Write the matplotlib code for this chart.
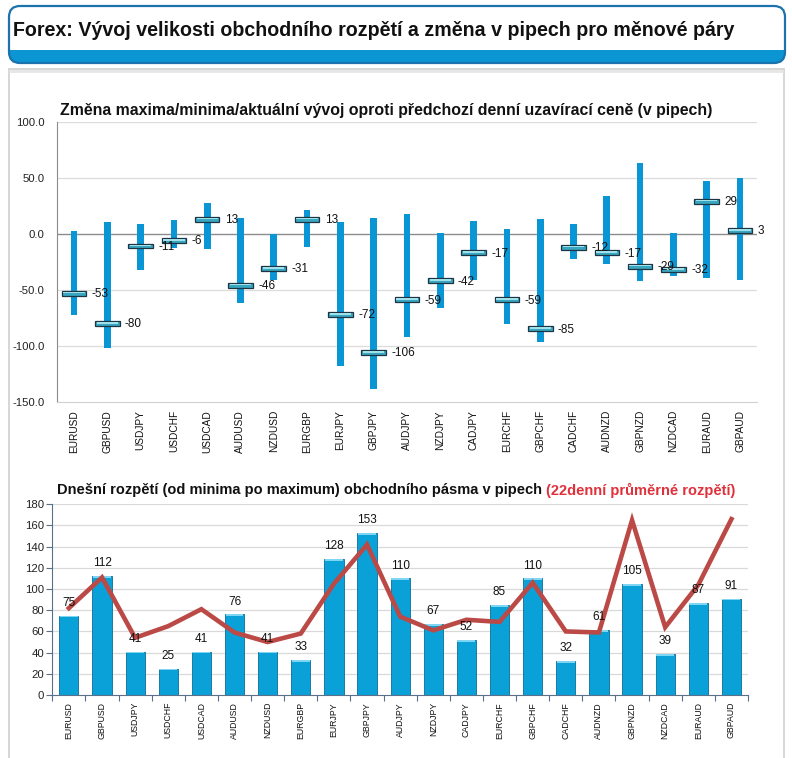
import matplotlib
matplotlib.use("Agg")
import matplotlib.pyplot as plt
from matplotlib.patches import FancyBboxPatch, Rectangle
import numpy as np

pairs = ["EURUSD", "GBPUSD", "USDJPY", "USDCHF", "USDCAD", "AUDUSD", "NZDUSD",
         "EURGBP", "EURJPY", "GBPJPY", "AUDJPY", "NZDJPY", "CADJPY", "EURCHF",
         "GBPCHF", "CADCHF", "AUDNZD", "GBPNZD", "NZDCAD", "EURAUD", "GBPAUD"]
high_change = [2, 10, 9, 12, 27, 14, 0, 21, 10, 14, 18, 1, 11, 4, 13, 9, 34, 63, 1, 47, 50]
low_change = [-73, -102, -32, -13, -14, -62, -41, -12, -118, -139, -92, -66, -41, -81,
              -97, -23, -27, -42, -38, -40, -41]
current_change = [-53, -80, -11, -6, 13, -46, -31, 13, -72, -106, -59, -42, -17, -59,
                  -85, -12, -17, -29, -32, 29, 3]
today_range = [75, 112, 41, 25, 41, 76, 41, 33, 128, 153, 110, 67, 52, 85, 110, 32, 61,
               105, 39, 87, 91]
avg22_range = [82, 111, 54, 65, 81, 59, 50, 58, 105, 142, 74, 61, 71, 69, 106, 60, 59,
               165, 64, 104, 166]
top_yticks = [100, 50, 0, -50, -100, -150]
top_yticklabels = ["100.0", "50.0", "0.0", "-50.0", "-100.0", "-150.0"]
bot_yticks = [0, 20, 40, 60, 80, 100, 120, 140, 160, 180]

main_title = "Forex: Vývoj velikosti obchodního rozpětí a změna v pipech pro měnové páry"
top_title = "Změna maxima/minima/aktuální vývoj oproti předchozí denní uzavírací ceně (v pipech)"
bot_title_a = "Dnešní rozpětí (od minima po maximum) obchodního pásma v pipech "
bot_title_b = "(22denní průměrné rozpětí)"

W, H = 792, 758
fig = plt.figure(figsize=(W / 100, H / 100), dpi=100)
plt.rcParams['font.family'] = ['Liberation Sans', 'DejaVu Sans']

# background canvas in pixel coords
bg = fig.add_axes([0, 0, 1, 1], zorder=-10)
bg.set_xlim(0, W)
bg.set_ylim(H, 0)
bg.axis("off")

hdr = FancyBboxPatch((9, 6), 776, 57, boxstyle="round,pad=0,rounding_size=11",
                     facecolor="white", edgecolor="none", lw=0, zorder=2)
bg.add_patch(hdr)
strip = Rectangle((8, 50), 780, 15, facecolor="#0b95d3", edgecolor="none", zorder=2.5)
bg.add_patch(strip)
strip.set_clip_path(hdr)
hdr2 = FancyBboxPatch((9, 6), 776, 57, boxstyle="round,pad=0,rounding_size=11",
                      facecolor="none", edgecolor="#1b72ad", lw=1.6, zorder=3)
bg.add_patch(hdr2)
bg.add_patch(Rectangle((8.5, 69), 775, 700, facecolor="white", edgecolor="#cfcfcf", lw=1.2, zorder=1))
bg.plot([10, 782], [70.5, 70.5], color="#e6e6e6", lw=2, zorder=1.5)

bg.text(13, 31, main_title, fontsize=14.1, fontweight="bold", va="center", ha="left",
        family=['Liberation Sans', 'DejaVu Sans'], zorder=4, color="#111")


def px_axes(left, top, right, bottom):
    return fig.add_axes([left / W, 1 - bottom / H, (right - left) / W, (bottom - top) / H])


x = np.arange(len(pairs))

# ---------- top chart ----------
ax1 = px_axes(57.3, 121.7, 756.7, 401.7)
ax1.set_xlim(-0.5, len(pairs) - 0.5)
ax1.set_ylim(-150, 100)
for v in top_yticks:
    if v == 0:
        ax1.axhline(v, color="#8c8c8c", lw=1.0, zorder=1)
    elif v != -150:
        ax1.axhline(v, color="#dcdcdc", lw=0.9, zorder=0)
hi = np.array(high_change)
lo = np.array(low_change)
cur = np.array(current_change)
ax1.bar(x, hi - lo, bottom=lo, width=0.2, color="#0a96d4", zorder=2)
mh = 4.4
ax1.bar(x, mh, bottom=cur - mh / 2, width=0.74, color="#3aa7c0", edgecolor="#1d3542",
        lw=0.9, zorder=3)
ax1.bar(x, mh * 0.35, bottom=cur - 0.2, width=0.64, color="#9fe0ea", edgecolor="none", zorder=4)
for xi, c in zip(x, cur):
    ax1.text(xi + 0.53, c - 0.8, f"{c}", fontsize=8.5, va="center", ha="left", zorder=5,
             family=['Liberation Sans', 'DejaVu Sans'], color="#111")
ax1.set_yticks(top_yticks)
ax1.set_yticklabels(top_yticklabels)
ax1.set_xticks(x)
ax1.set_xticklabels(pairs, rotation=90)
ax1.tick_params(axis="y", length=0, pad=9, labelsize=8.2, labelcolor="#222")
ax1.tick_params(axis="x", length=0, pad=6, labelsize=7.3, labelcolor="#111")
for s in ["top", "right"]:
    ax1.spines[s].set_visible(False)
ax1.spines["left"].set_color("#8c8c8c")
ax1.spines["bottom"].set_color("#d0d0d0")
ax1.patch.set_alpha(0)
bg.text(60, 110, top_title, fontsize=11.4, fontweight="bold", va="center", ha="left", zorder=4,
        color="#111")

# ---------- bottom chart ----------
ax2 = px_axes(52.3, 504.3, 748, 695)
ax2.set_xlim(-0.5, len(pairs) - 0.5)
ax2.set_ylim(0, 180)
for v in bot_yticks[1:]:
    ax2.axhline(v, color="#d9d9d9", lw=0.9, zorder=0)
ax2.bar(x, today_range, width=0.58, color="#0aa0d8", edgecolor="#0c6e96", lw=0.6, zorder=2)
ax2.bar(x, 1.8, bottom=np.array(today_range) - 1.8, width=0.54, color="#7fd6f2",
        edgecolor="none", zorder=2.5)
for xi, v in zip(x, today_range):
    ax2.annotate(f"{v}", (xi, v), xytext=(0, 5), textcoords="offset points",
                 ha="center", va="bottom", fontsize=8.5, color="#111", zorder=5)
ax2.plot(x, avg22_range, color="#bb4a47", lw=3.3, solid_joinstyle="miter", zorder=4)
ax2.set_yticks(bot_yticks)
ax2.set_xticks(x)
ax2.set_xticklabels(pairs, rotation=90)
ax2.set_xticks(np.arange(-0.5, len(pairs), 1.0), minor=True)
ax2.tick_params(axis="x", which="major", length=0, pad=5, labelsize=6.3, labelcolor="#111")
ax2.tick_params(axis="x", which="minor", length=4, color="#5a6f8a", width=0.8)
ax2.tick_params(axis="y", length=4, color="#5a6f8a", width=0.8, pad=2, labelsize=8.2,
                labelcolor="#222")
for s in ["top", "right"]:
    ax2.spines[s].set_visible(False)
ax2.spines["left"].set_color("#5a6f8a")
ax2.spines["bottom"].set_color("#5a6f8a")
ax2.patch.set_alpha(0)

t1 = bg.text(57, 490, bot_title_a, fontsize=10.5, fontweight="bold", va="center", ha="left",
             zorder=4, color="#111")
fig.canvas.draw()
ext = t1.get_window_extent()
x_end = ext.x1
bg.text(x_end, 490, bot_title_b, fontsize=10.5, fontweight="bold", va="center", ha="left",
        color="#e0313b", zorder=4)

fig.savefig("out.png", dpi=100)
